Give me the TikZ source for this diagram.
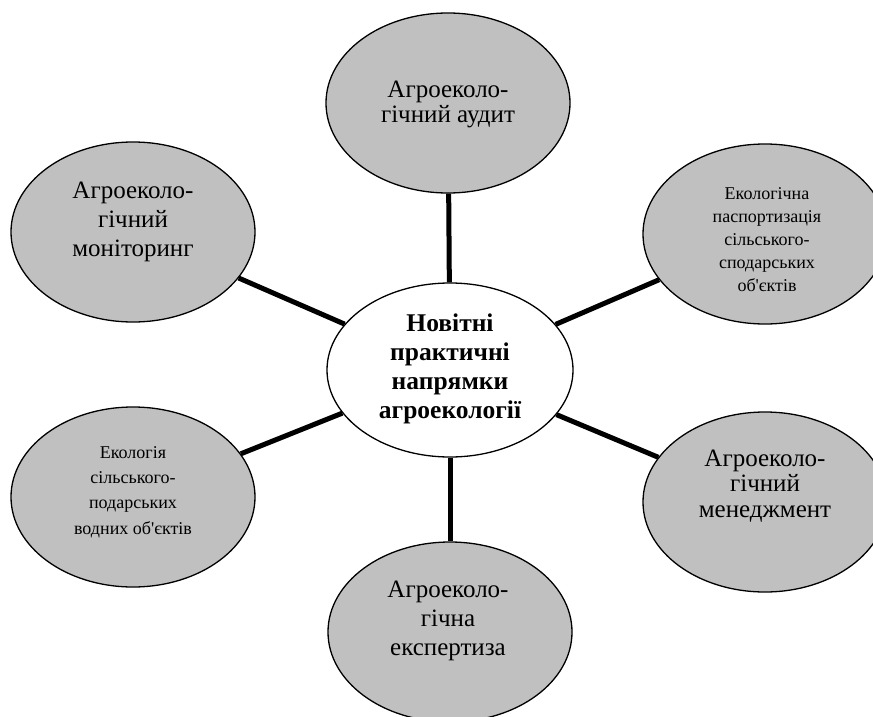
\documentclass[tikz,border=0pt]{standalone}
\usepackage{fontspec}
\setmainfont{Liberation Serif}
% same face without the TeX quote mapping, for a straight apostrophe
\newfontfamily\straightserif{Liberation Serif}
\usetikzlibrary{shapes.geometric}
\definecolor{bubblegray}{RGB}{192,192,192}
\newcommand{\apos}{{\straightserif\symbol{39}}}
\begin{document}
\begin{tikzpicture}[x=1pt,y=-1pt,
  bubble/.style={ellipse, draw=black, line width=1.3pt, fill=bubblegray,
    minimum width=244pt, minimum height=180pt, inner sep=0pt},
  hub/.style={bubble, fill=white, minimum width=246pt, minimum height=174pt},
  txt/.style={align=center, inner sep=0pt},
  spoke/.style={line width=5pt, black}]
\useasboundingbox (0,0) rectangle (873,717);
\clip (0,0) rectangle (873,717);

% outer bubbles and the hub
\node[bubble] (top) at (448,103) {};
\node[bubble] (tl)  at (133,232) {};
\node[bubble] (tr)  at (765,234) {};
\node[bubble] (bl)  at (133,497) {};
\node[bubble] (br)  at (765,502) {};
\node[bubble] (bot) at (450,632) {};
\node[hub]    (c)   at (450,370) {};

% spokes
\draw[spoke] (c) -- (top);
\draw[spoke] (c) -- (tl);
\draw[spoke] (c) -- (tr);
\draw[spoke] (c) -- (bl);
\draw[spoke] (c) -- (br);
\draw[spoke] (c) -- (bot);

% labels
\node[txt, font=\fontsize{25}{25}\selectfont] (top-t) at (448,104) {Агроеколо-\\гічний аудит};
\node[txt, font=\fontsize{25}{29}\selectfont] (tl-t) at (133,222) {Агроеколо-\\гічний\\моніторинг};
\node[txt, font=\fontsize{18}{23}\selectfont] (tr-t) at (767,240) {Екологічна\\паспортизація\\сільського-\\сподарських\\об\apos єктів};
\node[txt, font=\fontsize{18}{25.3}\selectfont] (bl-t) at (133,492) {Екологія\\сільського-\\подарських\\водних об\apos єктів};
\node[txt, font=\fontsize{25}{25.5}\selectfont] (br-t) at (765,486) {Агроеколо-\\гічний\\менеджмент};
\node[txt, font=\fontsize{25}{29}\selectfont] (bot-t) at (448,621) {Агроеколо-\\гічна\\експертиза};
\node[txt, font=\fontsize{25.5}{29}\selectfont\bfseries] (c-t) at (450,369) {Новітні\\практичні\\напрямки\\агроекології};
\end{tikzpicture}
\end{document}
